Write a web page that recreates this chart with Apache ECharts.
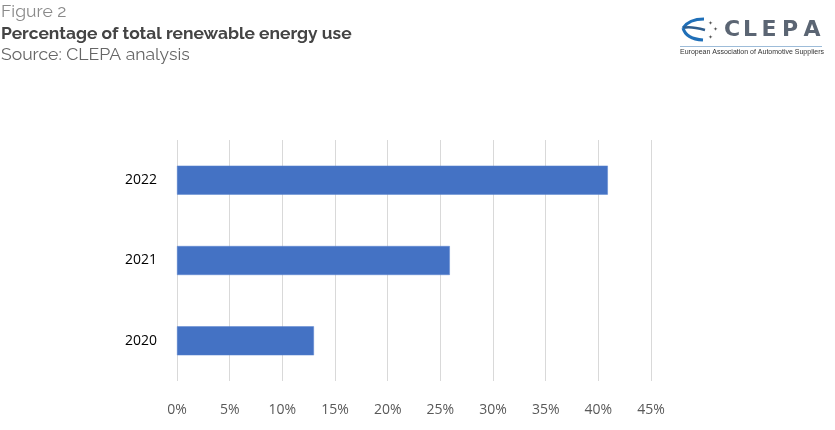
<!DOCTYPE html>
<html>
<head>
<meta charset="utf-8">
<script src="https://cdn.jsdelivr.net/npm/echarts@6/dist/echarts.min.js"></script>
<style>
html,body{margin:0;padding:0;background:#fff;}
#c{width:835px;height:430px;}
</style>
</head>
<body>
<div id="c"></div>
<script>
const categories = ['2020', '2021', '2022'];
const renewableShare = [0.13, 0.259, 0.409];
const xTicks = [0, 0.05, 0.10, 0.15, 0.20, 0.25, 0.30, 0.35, 0.40, 0.45];

const chart = echarts.init(document.getElementById('c'), null, {renderer: 'canvas'});
const titleFont = 'Raleway, Lato, "Open Sans", sans-serif';
const logoLetters = ['C', 'L', 'E', 'P', 'A'];
const letterX = [52, 70, 89, 110, 132];
const letterEls = logoLetters.map((ch, i) => ({
  type: 'text', x: letterX[i], y: 5,
  style: {text: ch, fill: '#5b6573', fontSize: 22, fontWeight: 'bold', fontFamily: '"DejaVu Sans"', textAlign: 'center'}
}));
chart.setOption({
  animation: false,
  backgroundColor: '#ffffff',
  grid: {left: 177, right: 184, top: 140, bottom: 49, containLabel: false},
  xAxis: {
    type: 'value', min: 0, max: 0.45, interval: 0.05,
    axisLine: {show: false}, axisTick: {show: false},
    splitLine: {show: true, lineStyle: {color: '#d9d9d9', width: 1}},
    axisLabel: {
      margin: 22, color: '#595959', fontSize: 14,
      fontFamily: '"Open Sans", "Noto Sans", sans-serif',
      formatter: v => Math.round(v * 100) + '%'
    }
  },
  yAxis: {
    type: 'category', data: categories,
    axisLine: {show: false}, axisTick: {show: false},
    axisLabel: {margin: 20, color: '#000000', fontSize: 14, fontFamily: '"Open Sans", "Noto Sans", sans-serif'}
  },
  series: [{
    type: 'bar', data: renewableShare, barWidth: 29,
    itemStyle: {color: '#4472c4', borderColor: '#5b85d0', borderWidth: 0.5}
  }],
  graphic: [
    {type: 'text', left: 1, top: 3, style: {text: 'Figure 2', fill: '#8a8a8a', font: '17.6px ' + titleFont}},
    {type: 'text', left: 1, top: 25, style: {text: 'Percentage of total renewable energy use', fill: '#444444', font: 'bold 17.4px ' + titleFont}},
    {type: 'text', left: 1, top: 46, style: {text: 'Source: CLEPA analysis', fill: '#666666', font: '17.6px ' + titleFont}},
    // CLEPA logo
    {type: 'group', x: 680, y: 14, children: [
      {type: 'bezierCurve', shape: {x1: 24, y1: 5, x2: 3, y2: 14, cpx1: 9, cpy1: 5}, style: {stroke: '#1f6fb8', lineWidth: 3, fill: null}},
      {type: 'bezierCurve', shape: {x1: 3, y1: 14, x2: 25, y2: 16, cpx1: 10, cpy1: 12}, style: {stroke: '#2f5d8c', lineWidth: 2.5, fill: null}},
      {type: 'bezierCurve', shape: {x1: 3, y1: 14, x2: 23, y2: 26, cpx1: 6, cpy1: 25}, style: {stroke: '#1f6fb8', lineWidth: 3, fill: null}},
      {type: 'text', x: 28, y: 6, style: {text: '✦', fill: '#555', font: '6px "DejaVu Sans", sans-serif'}},
      {type: 'text', x: 33, y: 12, style: {text: '✦', fill: '#555', font: '6px "DejaVu Sans", sans-serif'}},
      {type: 'text', x: 28, y: 20, style: {text: '✦', fill: '#555', font: '6px "DejaVu Sans", sans-serif'}},
      ...letterEls,
      {type: 'line', shape: {x1: 0, y1: 32.5, x2: 142, y2: 32.5}, style: {stroke: '#9dbcd9', lineWidth: 1}},
      {type: 'text', x: 0, y: 35, style: {text: 'European Association of Automotive Suppliers', fill: '#333', font: '7px "Liberation Sans Narrow", "Liberation Sans", sans-serif'}}
    ]}
  ]
});
</script>
</body>
</html>
